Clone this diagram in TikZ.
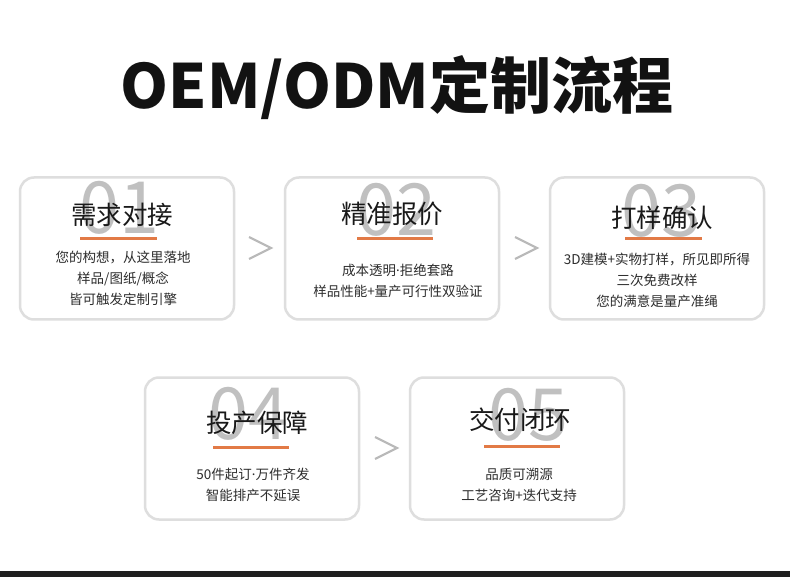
\documentclass[tikz,border=0pt]{standalone}
\usepackage{fontspec}
\setmainfont{Noto Sans CJK SC}
\newfontfamily\latinfont{Noto Sans}
\usepackage{xcolor}
\usepackage{tikz}
\usetikzlibrary{positioning}
\definecolor{cardline}{RGB}{222,222,222}
\definecolor{numgray}{RGB}{192,192,192}
\definecolor{accent}{RGB}{226,122,70}
\definecolor{chevgray}{RGB}{185,185,185}
\definecolor{bodytext}{RGB}{45,45,45}
\newcommand{\middot}{{\latinfont ·}}
\tikzset{
    flow/.style={x=1pt, y=-1pt},
    flow card/.style={rounded corners=14pt, draw=cardline, line width=2.5pt,
        fill=white, minimum width=214pt, minimum height=142pt},
    flow number/.style={text=numgray, inner sep=0pt,
        font=\fontsize{72}{72}\selectfont},
    flow title/.style={text=black!90, inner sep=0pt,
        font=\fontsize{25.5}{25.5}\selectfont},
    flow text/.style={text=bodytext, inner sep=0pt, align=center,
        font=\fontsize{13.5}{21}\selectfont},
    flow underline/.style={draw=accent, line width=3pt},
    flow chevron/.style={draw=chevgray, line width=2.2pt},
}

\begin{document}
\begin{tikzpicture}[flow]
            \useasboundingbox (0,0) rectangle (790,577);
            \fill[white] (0,0) rectangle (790,577);
            \fill[black!88] (0,571) rectangle (790,577);
            \node[text=black!93, inner sep=0pt,
                font=\fontsize{61}{61}\bfseries\selectfont]
                (heading) at (397,88) {OEM/ODM定制流程};
            % first row
            \node[flow card] (card1) at (127,248.5) {};
            \node[flow card] (card2) at (392,248.5) {};
            \node[flow card] (card3) at (657,248.5) {};
            \node[flow number] (num1) at (119,208) {01};
            \node[flow number] (num2) at (396,210) {02};
            \node[flow number] (num3) at (661,211) {03};
            \node[flow title] (title1) at (122,215) {需求对接};
            \node[flow title] (title2) at (392,214) {精准报价};
            \node[flow title] (title3) at (662,218) {打样确认};
            \draw[flow underline] (80,239) -- (157,239);
            \draw[flow underline] (357,239) -- (433,239);
            \draw[flow underline] (625,239) -- (702,239);
            \node[flow text] (text1) at (123,278)
                {您的构想，从这里落地\\样品/图纸/概念\\皆可触发定制引擎};
            \node[flow text] (text2) at (398,281)
                {成本透明\middot 拒绝套路\\样品性能+量产可行性双验证};
            \node[flow text] (text3) at (657,280)
                {3D建模+实物打样，所见即所得\\三次免费改样\\您的满意是量产准绳};
            \draw[flow chevron] (249,237) -- (271,248) -- (249,259);
            \draw[flow chevron] (515,237) -- (537,248) -- (515,259);
            % second row
            \node[flow card] (card4) at (252,448.5) {};
            \node[flow card] (card5) at (517,448.5) {};
            \node[flow number] (num4) at (248,414) {04};
            \node[flow number] (num5) at (528,415) {05};
            \node[flow title] (title4) at (257,423) {投产保障};
            \node[flow title] (title5) at (520,420) {交付闭环};
            \draw[flow underline] (213,447) -- (289,447);
            \draw[flow underline] (484,446) -- (560,446);
            \node[flow text] (text4) at (253,485)
                {50件起订\middot 万件齐发\\智能排产不延误};
            \node[flow text] (text5) at (519,485)
                {品质可溯源\\工艺咨询+迭代支持};
            \draw[flow chevron] (375,437) -- (397,448) -- (375,459);
        \end{tikzpicture}
\end{document}
